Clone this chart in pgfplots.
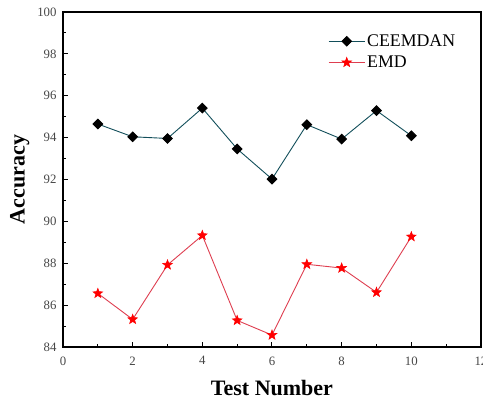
\documentclass[border=0pt]{standalone}
\usepackage{pgfplots}
\pgfplotsset{compat=1.18}
\usepackage{fontspec}
\setmainfont{Liberation Serif}
\definecolor{ceemdanline}{RGB}{18,78,90}
\definecolor{emdline}{RGB}{222,62,80}
\definecolor{ticktext}{RGB}{70,70,70}
% filled five-point star
\pgfdeclareplotmark{fstar}{%
  \pgfpathmoveto{\pgfpointpolar{90}{\pgfplotmarksize}}%
  \pgfpathlineto{\pgfpointpolar{126}{0.42\pgfplotmarksize}}%
  \pgfpathlineto{\pgfpointpolar{162}{\pgfplotmarksize}}%
  \pgfpathlineto{\pgfpointpolar{198}{0.42\pgfplotmarksize}}%
  \pgfpathlineto{\pgfpointpolar{234}{\pgfplotmarksize}}%
  \pgfpathlineto{\pgfpointpolar{270}{0.42\pgfplotmarksize}}%
  \pgfpathlineto{\pgfpointpolar{306}{\pgfplotmarksize}}%
  \pgfpathlineto{\pgfpointpolar{342}{0.42\pgfplotmarksize}}%
  \pgfpathlineto{\pgfpointpolar{18}{\pgfplotmarksize}}%
  \pgfpathlineto{\pgfpointpolar{54}{0.42\pgfplotmarksize}}%
  \pgfpathclose
  \pgfusepathqfillstroke}
\begin{document}
\begin{tikzpicture}
\path[use as bounding box] (-63pt,-54pt) rectangle (420pt,347pt);
\begin{axis}[
  at={(0,0)}, anchor=south west,
  scale only axis,
  width=418pt, height=335pt,
  xmin=0, xmax=12, ymin=84, ymax=100,
  xtick={0,2,...,12}, ytick={84,86,...,100},
  minor xtick={1,3,...,11}, minor ytick={85,87,...,99},
  tick align=inside,
  xtick pos=bottom, ytick pos=left,
  major tick length=5pt, minor tick length=3pt,
  every tick/.style={black, line width=1pt},
  axis line style={line width=1.3pt},
  /pgf/number format/assume math mode=true,
  tick label style={font=\fontsize{12.8}{14}\selectfont, text=ticktext},
  xticklabel style={yshift=-6pt},
  yticklabel style={xshift=-3pt},
  xlabel={\textbf{Test Number}},
  ylabel={\textbf{Accuracy}},
  label style={font=\fontsize{22}{25}\selectfont},
  xlabel style={yshift=-8pt},
  ylabel style={yshift=1pt},
  legend style={draw=none, fill=none, at={(0.627,0.945)}, anchor=north west,
    font=\fontsize{17.8}{20}\selectfont, row sep=4pt,
    /tikz/every even column/.append style={column sep=5pt}},
  legend cell align=left,
  legend image code/.code={%
    \draw[mark repeat=2, mark phase=2, #1]
      plot coordinates {(0pt,0pt) (18pt,0pt) (36pt,0pt)};},
]
\addplot[ceemdanline, line width=0.9pt, mark=square*, mark size=3.4pt,
  mark options={black, fill=black, rotate=45}] coordinates {
  (1,94.65) (2,94.04) (3,93.96) (4,95.41) (5,93.46)
  (6,92.02) (7,94.62) (8,93.93) (9,95.29) (10,94.09)
};
\addlegendentry{CEEMDAN}
\addplot[emdline, line width=0.9pt, mark=fstar, mark size=5pt,
  mark options={red, fill=red, line width=0.6pt}] coordinates {
  (1,86.56) (2,85.32) (3,87.92) (4,89.33) (5,85.27)
  (6,84.57) (7,87.95) (8,87.77) (9,86.61) (10,89.27)
};
\addlegendentry{EMD}
\end{axis}
\end{tikzpicture}
\end{document}
